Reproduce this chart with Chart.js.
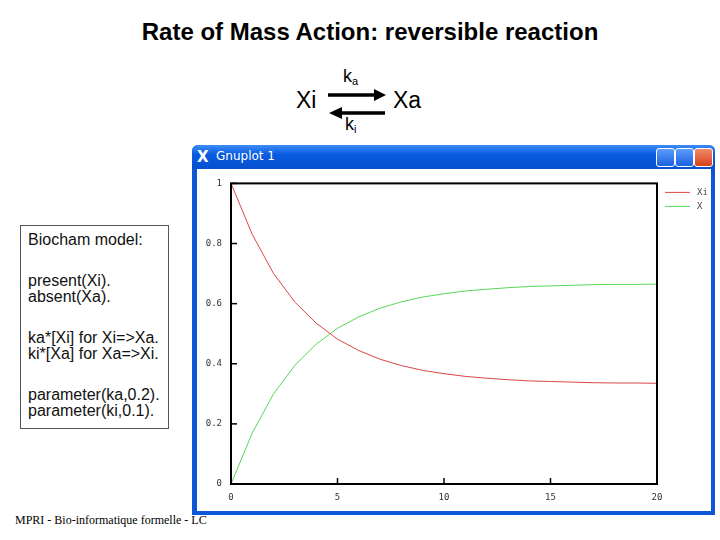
<!DOCTYPE html>
<html>
<head>
<meta charset="utf-8">
<script src="https://cdn.jsdelivr.net/npm/chart.js@4.4.1/dist/chart.umd.min.js"></script>
<style>
  body { margin: 0; width: 720px; height: 540px; background: #fff; position: relative; overflow: hidden; font-family: "Liberation Sans", Arial, sans-serif; }
  #title { position: absolute; left: 0; width: 740px; top: 18px; text-align: center; font-weight: bold; font-size: 24px; color: #000; }
  .rx { position: absolute; font-size: 23px; color: #000; }
  .k { position: absolute; font-size: 18px; }
  .k sub { font-size: 11px; vertical-align: -3px; }
  #model { position: absolute; left: 20px; top: 225px; width: 140px; height: 196px; border: 1px solid #555; padding: 6px 0 0 7px; font-size: 16px; line-height: 16.5px; color: #111; }
  #model p { margin: 0 0 24px 0; }
  #win { position: absolute; left: 192px; top: 145px; width: 523px; height: 370px; background: #0c56d8; border-radius: 6px 6px 0 0; }
  #titlebar { position: absolute; left: 0; top: 0; width: 523px; height: 24px; border-radius: 6px 6px 0 0; background: linear-gradient(#3c8cf6, #0a5be0 40%, #0650d0); }
  #titlebar span { position: absolute; left: 24px; top: 4px; color: #fff; font-family: "DejaVu Sans", sans-serif; font-size: 12px; }
  #xicon { position: absolute; left: 5px; top: 3px; color: #fff; font-size: 15px; font-weight: bold; font-family: "DejaVu Sans", sans-serif; }
  .btn { position: absolute; top: 3px; width: 17px; height: 17px; border: 1px solid #fff; border-radius: 3px; background: linear-gradient(#5a9cff, #1c62e0); }
  .btn.close { background: linear-gradient(#f08a6a, #d84018); }
  #white { position: absolute; left: 5px; top: 24px; width: 514px; height: 342px; background: #fff; }
  #footer { position: absolute; left: 15px; top: 513px; font-family: "Liberation Serif", "Times New Roman", serif; font-size: 12px; color: #000; }
</style>
</head>
<body>
<div id="title">Rate of Mass Action: reversible reaction</div>

<div class="rx" style="left:296px; top:87px;">Xi</div>
<div class="rx" style="left:393px; top:87px;">Xa</div>
<div class="k" style="left:343px; top:66px;">k<sub>a</sub></div>
<div class="k" style="left:345px; top:114px;">k<sub>i</sub></div>
<svg style="position:absolute; left:320px; top:85px;" width="75" height="35">
  <line x1="8" y1="10" x2="56" y2="10" stroke="#000" stroke-width="3.5"/>
  <polygon points="54,4 66,10 54,16" fill="#000"/>
  <line x1="21" y1="28" x2="65" y2="28" stroke="#000" stroke-width="3.5"/>
  <polygon points="22,22 9,28 22,34" fill="#000"/>
</svg>

<div id="model"><p>Biocham model:</p><p>present(Xi).<br>absent(Xa).</p><p>ka*[Xi] for Xi=&gt;Xa.<br>ki*[Xa] for Xa=&gt;Xi.</p><p>parameter(ka,0.2).<br>parameter(ki,0.1).</p></div>

<div id="win">
  <div id="titlebar">
    <div id="xicon">X</div>
    <span>Gnuplot 1</span>
    <div class="btn" style="left:464px;"></div>
    <div class="btn" style="left:483px;"></div>
    <div class="btn close" style="left:502px;"></div>
  </div>
  <div id="white"><canvas id="plot" width="514" height="342"></canvas></div>
</div>

<div id="footer">MPRI - Bio-informatique formelle - LC</div>

<script>
const times = [0, 1, 2, 3, 4, 5, 6, 7, 8, 9, 10, 11, 12, 13, 14, 15, 16, 17, 18, 19, 20];
const xiValues = [1.0, 0.83, 0.70, 0.605, 0.535, 0.482, 0.444, 0.415, 0.394, 0.378, 0.367, 0.358, 0.352, 0.347, 0.343, 0.341, 0.339, 0.337, 0.336, 0.336, 0.335];
const xaValues = [0.0, 0.17, 0.30, 0.395, 0.465, 0.518, 0.556, 0.585, 0.606, 0.622, 0.633, 0.642, 0.648, 0.653, 0.657, 0.659, 0.661, 0.663, 0.664, 0.664, 0.665];
const seriesNames = ['Xi', 'X'];
const seriesColors = ['rgb(220, 70, 70)', 'rgb(90, 215, 90)'];

const tickFont = { family: 'DejaVu Sans Mono', size: 9 };

// gnuplot style: black frame, ticks pointing inward, key outside on the right
const gnuplotFrame = {
    id: 'gnuplotFrame',
    afterDraw(chart) {
        const { ctx, chartArea: a, scales } = chart;
        ctx.save();
        ctx.strokeStyle = '#000';
        ctx.lineWidth = 1.5;
        scales.y.ticks.forEach(t => {
            const y = scales.y.getPixelForValue(t.value);
            ctx.beginPath(); ctx.moveTo(a.left, y); ctx.lineTo(a.left + 6, y); ctx.stroke();
        });
        scales.x.ticks.forEach(t => {
            const x = scales.x.getPixelForValue(t.value);
            ctx.beginPath(); ctx.moveTo(x, a.bottom); ctx.lineTo(x, a.bottom - 6); ctx.stroke();
        });
        ctx.lineWidth = 2;
        ctx.strokeRect(a.left, a.top, a.right - a.left, a.bottom - a.top);

        ctx.lineWidth = 1;
        ctx.font = '9px "DejaVu Sans Mono"';
        ctx.fillStyle = '#444';
        ctx.textBaseline = 'middle';
        seriesNames.forEach((name, i) => {
            const y = a.top + 9 + i * 14;
            ctx.strokeStyle = seriesColors[i];
            ctx.beginPath(); ctx.moveTo(a.right + 8, y); ctx.lineTo(a.right + 33, y); ctx.stroke();
            ctx.fillText(name, a.right + 40, y);
        });
        ctx.restore();
    }
};

new Chart(document.getElementById('plot').getContext('2d'), {
    type: 'line',
    data: {
        datasets: [
            { label: seriesNames[0], data: times.map((t, i) => ({ x: t, y: xiValues[i] })), borderColor: seriesColors[0], borderWidth: 1, pointRadius: 0, tension: 0 },
            { label: seriesNames[1], data: times.map((t, i) => ({ x: t, y: xaValues[i] })), borderColor: seriesColors[1], borderWidth: 1, pointRadius: 0, tension: 0 }
        ]
    },
    options: {
        responsive: false,
        animation: false,
        layout: { padding: { left: 0, right: 54, top: 6, bottom: 0 } },
        plugins: { legend: { display: false }, tooltip: { enabled: false } },
        scales: {
            x: {
                type: 'linear', min: 0, max: 20,
                grid: { display: false, drawTicks: false },
                border: { display: false },
                ticks: { stepSize: 5, font: tickFont, color: '#333', padding: 8, maxRotation: 0 },
                afterFit(scale) { scale.height = 27; }
            },
            y: {
                min: 0, max: 1,
                grid: { display: false, drawTicks: false },
                border: { display: false },
                ticks: {
                    stepSize: 0.2, font: tickFont, color: '#333', padding: 9,
                    callback: v => (v === 0 || v === 1) ? String(v) : v.toFixed(1)
                },
                afterFit(scale) { scale.width = 34; }
            }
        }
    },
    plugins: [gnuplotFrame]
});
</script>
</body>
</html>
